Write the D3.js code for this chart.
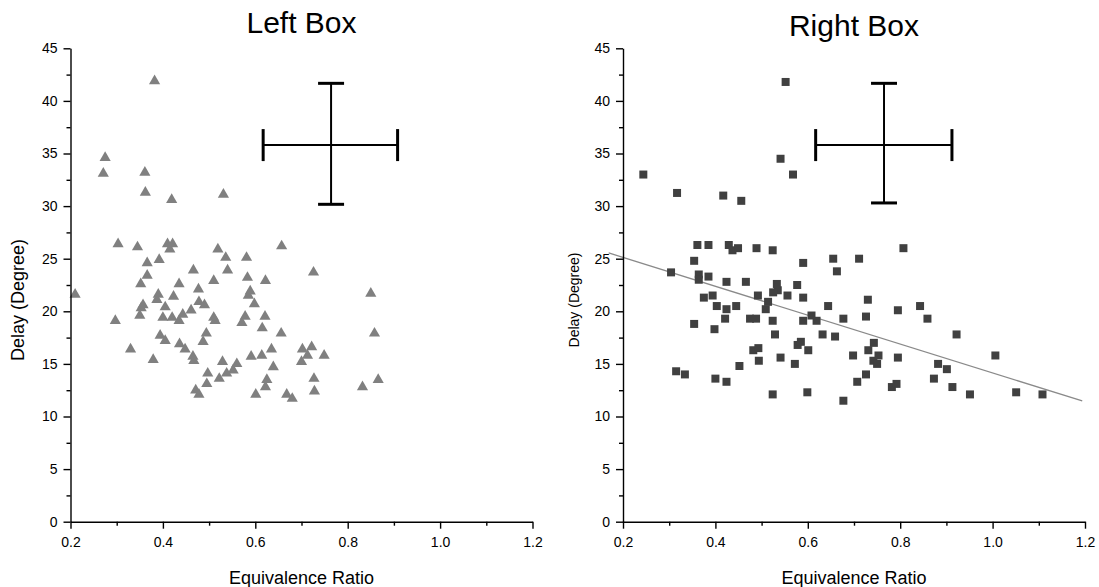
<!DOCTYPE html>
<html>
<head>
<meta charset="utf-8">
<script src="https://cdn.jsdelivr.net/npm/d3@7"></script>
<style>
body { margin: 0; background: #fff; }
svg text { font-family: "Liberation Sans", Arial, sans-serif; fill: #000; }
</style>
</head>
<body>
<svg id="chart" width="1099" height="587"></svg>
<script>
// ---- data ----
const xTicks = [0.2, 0.4, 0.6, 0.8, 1.0, 1.2];
const xMinorTicks = [0.3, 0.5, 0.7, 0.9, 1.1];
const yTicks = [0, 5, 10, 15, 20, 25, 30, 35, 40, 45];
const yMinorTicks = [2.5, 7.5, 12.5, 17.5, 22.5, 27.5, 32.5, 37.5, 42.5];

const leftPhi = [
    0.303, 0.345, 0.410, 0.421, 0.415, 0.519, 0.536, 0.366, 0.392, 0.466, 0.540, 0.366, 0.352, 0.435, 0.510, 0.477,
    0.210, 0.390, 0.423, 0.387, 0.357, 0.353, 0.405, 0.478, 0.490, 0.461, 0.350, 0.297, 0.400, 0.420, 0.443, 0.435,
    0.510, 0.513, 0.394, 0.405, 0.494, 0.487, 0.436, 0.448, 0.330, 0.379, 0.465, 0.467, 0.529, 0.538, 0.497, 0.522,
    0.495, 0.471, 0.478,
    0.657, 0.581, 0.726, 0.583, 0.622, 0.589, 0.585, 0.598, 0.850, 0.578, 0.571, 0.621, 0.615, 0.656, 0.858, 0.635,
    0.591, 0.614, 0.702, 0.722, 0.713, 0.749, 0.700, 0.560, 0.552, 0.639, 0.625, 0.622, 0.727, 0.728, 0.601, 0.668,
    0.680, 0.832, 0.866,
    0.382, 0.275, 0.271, 0.361, 0.362, 0.419, 0.531
];
const leftDelay = [
    26.4, 26.1, 26.4, 26.4, 25.9, 25.9, 25.1, 24.6, 24.9, 23.9, 23.9, 23.4, 22.6, 22.6, 22.9, 22.1,
    21.6, 21.6, 21.4, 21.1, 20.6, 20.3, 20.4, 20.9, 20.6, 20.1, 19.6, 19.1, 19.4, 19.4, 19.7, 19.1,
    19.4, 19.1, 17.7, 17.2, 17.9, 17.1, 16.9, 16.4, 16.4, 15.4, 15.7, 15.3, 15.2, 14.1, 14.1, 13.6,
    13.1, 12.5, 12.1,
    26.2, 25.1, 23.7, 23.2, 22.9, 21.9, 21.5, 20.7, 21.7, 19.5, 18.9, 19.5, 18.4, 17.9, 17.9, 16.4,
    15.7, 15.8, 16.4, 16.6, 15.8, 15.8, 15.2, 15.0, 14.4, 14.7, 13.5, 12.8, 13.6, 12.4, 12.1, 12.1,
    11.7, 12.8, 13.5,
    41.9, 34.6, 33.1, 33.2, 31.3, 30.6, 31.1
];

const rightPhi = [
    0.361, 0.385, 0.429, 0.437, 0.449, 0.489, 0.354, 0.304, 0.364, 0.364, 0.385, 0.424, 0.466, 0.492, 0.375, 0.394,
    0.403, 0.424, 0.445, 0.354, 0.398, 0.421, 0.475, 0.488, 0.482, 0.493, 0.494, 0.452, 0.315, 0.334, 0.400, 0.424,
    0.524, 0.590, 0.655, 0.711, 0.807, 0.663, 0.533, 0.577, 0.535, 0.525, 0.556, 0.590, 0.730, 0.514, 0.509, 0.644,
    0.795, 0.524, 0.590, 0.608, 0.619, 0.677, 0.726, 0.529, 0.632, 0.659, 0.743, 0.578, 0.585, 0.601, 0.541, 0.572,
    0.698, 0.731, 0.753, 0.742, 0.750, 0.795, 0.726, 0.707, 0.782, 0.792, 0.524, 0.599, 0.677,
    0.843, 0.859, 0.922, 0.882, 0.901, 0.873, 0.913, 0.951, 1.006, 1.051, 1.108,
    0.244, 0.317, 0.417, 0.456, 0.541, 0.568, 0.552
];
const rightDelay = [
    26.3, 26.3, 26.3, 25.8, 26.0, 26.0, 24.8, 23.7, 23.5, 23.0, 23.3, 22.8, 22.8, 21.5, 21.3, 21.5,
    20.5, 20.2, 20.5, 18.8, 18.3, 19.3, 19.3, 19.3, 16.3, 16.5, 15.3, 14.8, 14.3, 14.0, 13.6, 13.3,
    25.8, 24.6, 25.0, 25.0, 26.0, 23.8, 22.6, 22.5, 22.0, 21.8, 21.5, 21.3, 21.1, 20.9, 20.2, 20.5,
    20.1, 19.1, 19.1, 19.6, 19.1, 19.3, 19.5, 17.8, 17.8, 17.6, 17.0, 16.8, 17.1, 16.3, 15.6, 15.0,
    15.8, 16.3, 15.8, 15.3, 15.0, 15.6, 14.0, 13.3, 12.8, 13.1, 12.1, 12.3, 11.5,
    20.5, 19.3, 17.8, 15.0, 14.5, 13.6, 12.8, 12.1, 15.8, 12.3, 12.1,
    33.0, 31.25, 31.0, 30.5, 34.5, 33.0, 41.8
];

// fitted line of the right box (end points)
const fitPhi = [0.169, 1.194];
const fitDelay = [25.55, 11.48];

// cross (mean +/- spread) of each box: [centre, low, high]
const leftCrossPhi = [0.764, 0.617, 0.908];
const leftCrossDelay = [35.8, 30.17, 41.67];
const rightCrossPhi = [0.765, 0.617, 0.912];
const rightCrossDelay = [35.8, 30.3, 41.67];

// ---- drawing ----
const svg = d3.select("#chart");

const y = d3.scaleLinear().domain([0, 45]).range([521.7, 48.3]);

function drawPanel(p) {
    const x = d3.scaleLinear().domain([0.2, 1.2]).range([p.x0, p.x1]);
    const g = svg.append("g");

    // fitted line goes under the points
    if (p.fitX) {
        g.append("path")
            .datum(p.fitX.map((v, i) => [v, p.fitY[i]]))
            .attr("fill", "none")
            .attr("stroke", "#8a8a8a")
            .attr("stroke-width", 1.3)
            .attr("d", d3.line().x(d => x(d[0])).y(d => y(d[1])));
    }

    g.selectAll("path.pt")
        .data(p.xs.map((v, i) => [v, p.ys[i]]))
        .enter().append("path")
        .attr("class", "pt")
        .attr("d", d3.symbol(p.symbol, p.symbolSize))
        .attr("fill", p.color)
        .attr("transform", d => `translate(${x(d[0])},${y(d[1])})`);

    // axes
    const xAxis = g.append("g")
        .attr("transform", `translate(0,${y(0)})`)
        .call(d3.axisBottom(x).tickValues(xTicks).tickSize(7).tickSizeOuter(0).tickPadding(8)
            .tickFormat(d3.format(".1f")));
    g.append("g")
        .attr("transform", `translate(0,${y(0)})`)
        .call(d3.axisBottom(x).tickValues(xMinorTicks).tickSize(4).tickFormat(""))
        .select(".domain").remove();

    const yAxis = g.append("g")
        .attr("transform", `translate(${p.x0},0)`)
        .call(d3.axisLeft(y).tickValues(yTicks).tickSize(7).tickSizeOuter(0).tickPadding(6));
    g.append("g")
        .attr("transform", `translate(${p.x0},0)`)
        .call(d3.axisLeft(y).tickValues(yMinorTicks).tickSize(4).tickFormat(""))
        .select(".domain").remove();

    g.selectAll(".domain, .tick line").attr("stroke", "#000").attr("stroke-width", 1.4);
    [xAxis, yAxis].forEach(a => a.selectAll("text")
        .attr("font-size", 14)
        .attr("font-family", '"Liberation Sans", Arial, sans-serif')
        .attr("fill", "#000"));

    // cross
    const cx = x(p.crossX[0]), cy = y(p.crossY[0]);
    const xl = x(p.crossX[1]), xr = x(p.crossX[2]);
    const yb = y(p.crossY[1]), yt = y(p.crossY[2]);
    const cross = g.append("g").attr("stroke", "#000").attr("fill", "none");
    cross.append("line").attr("x1", xl).attr("x2", xr).attr("y1", cy).attr("y2", cy).attr("stroke-width", 2);
    cross.append("line").attr("x1", cx).attr("x2", cx).attr("y1", yt).attr("y2", yb).attr("stroke-width", 2);
    [xl, xr].forEach(v => cross.append("line")
        .attr("x1", v).attr("x2", v).attr("y1", cy - 16).attr("y2", cy + 16).attr("stroke-width", 3));
    [yt, yb].forEach(v => cross.append("line")
        .attr("x1", cx - 13).attr("x2", cx + 13).attr("y1", v).attr("y2", v).attr("stroke-width", 3));

    // titles
    g.append("text")
        .attr("x", (p.x0 + p.x1) / 2)
        .attr("y", p.titleY)
        .attr("text-anchor", "middle")
        .attr("font-size", 30)
        .text(p.title);

    g.append("text")
        .attr("x", (p.x0 + p.x1) / 2)
        .attr("y", 584)
        .attr("text-anchor", "middle")
        .attr("font-size", 18)
        .text("Equivalence Ratio");

    g.append("text")
        .attr("transform", `translate(${p.yLabelX},300) rotate(-90)`)
        .attr("text-anchor", "middle")
        .attr("font-size", p.yLabelSize)
        .text("Delay (Degree)");
}

drawPanel({
    x0: 70.5, x1: 532.5, title: "Left Box", titleY: 33,
    xs: leftPhi, ys: leftDelay,
    symbol: d3.symbolTriangle, symbolSize: 54, color: "#808080",
    crossX: leftCrossPhi, crossY: leftCrossDelay,
    yLabelX: 24, yLabelSize: 18
});

drawPanel({
    x0: 623, x1: 1085, title: "Right Box", titleY: 36,
    xs: rightPhi, ys: rightDelay,
    symbol: d3.symbolSquare, symbolSize: 64, color: "#404040",
    fitX: fitPhi, fitY: fitDelay,
    crossX: rightCrossPhi, crossY: rightCrossDelay,
    yLabelX: 579, yLabelSize: 14
});
</script>
</body>
</html>
